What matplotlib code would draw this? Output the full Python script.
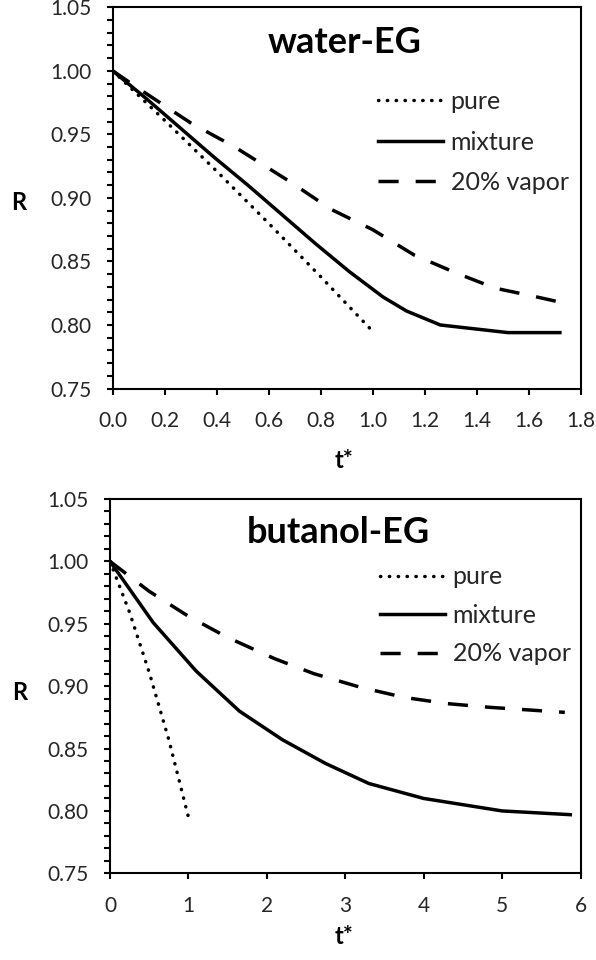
import matplotlib
matplotlib.use('Agg')
import matplotlib.pyplot as plt
from matplotlib.ticker import MultipleLocator, FormatStrFormatter

plt.rcParams['font.family'] = ['Lato', 'DejaVu Sans']

# Datos - water-EG
t_pure_w = [0, 0.2, 0.4, 0.6, 0.8, 1.0]
R_pure_w = [1.0, 0.961, 0.921, 0.880, 0.838, 0.795]
t_mix_w = [0, 0.13, 0.26, 0.39, 0.52, 0.65, 0.78, 0.91, 1.04, 1.13, 1.26, 1.52, 1.72]
R_mix_w = [1.0, 0.978, 0.955, 0.932, 0.910, 0.887, 0.864, 0.842, 0.822, 0.811, 0.800, 0.794, 0.794]
t_vap_w = [0, 0.1, 0.3, 0.47, 0.68, 0.84, 1.0, 1.16, 1.32, 1.47, 1.61, 1.72]
R_vap_w = [1.0, 0.986, 0.959, 0.940, 0.913, 0.891, 0.875, 0.855, 0.841, 0.829, 0.823, 0.818]

# Datos - butanol-EG
t_pure_b = [0, 0.25, 0.5, 0.75, 1.0]
R_pure_b = [1.0, 0.959, 0.911, 0.857, 0.795]
t_mix_b = [0, 0.55, 1.1, 1.65, 2.2, 2.75, 3.3, 4.0, 5.0, 5.87]
R_mix_b = [1.0, 0.951, 0.912, 0.880, 0.857, 0.838, 0.822, 0.810, 0.800, 0.797]
t_vap_b = [0, 0.5, 1.0, 1.5, 2.1, 2.6, 3.2, 3.75, 4.3, 4.85, 5.8]
R_vap_b = [1.0, 0.976, 0.956, 0.939, 0.922, 0.910, 0.899, 0.891, 0.886, 0.883, 0.879]

etiquetas = ['pure', 'mixture', '20% vapor']

fig = plt.figure(figsize=(5.96, 9.6), dpi=100)
ax1 = fig.add_axes([0.1891, 0.5953, 0.7852, 0.3971])
ax2 = fig.add_axes([0.1846, 0.0903, 0.7894, 0.3899])

lw = 2.5
dotted = (0, (0.1, 2.45))
dashed = (0, (5.8, 4.9))


def panel(ax, tp, Rp, tm, Rm, tv, Rv, xmax, xstep, xfmt, titulo, tpos, lpos, lsp, ypos_R, ypos_t):
    ax.plot(tp, Rp, color='black', lw=lw, linestyle=dotted, dash_capstyle='round', label=etiquetas[0])
    ax.plot(tm, Rm, color='black', lw=lw, linestyle='-', label=etiquetas[1])
    ax.plot(tv, Rv, color='black', lw=lw, linestyle=dashed, label=etiquetas[2])
    ax.set_xlim(0, xmax)
    ax.set_ylim(0.75, 1.05)
    ax.xaxis.set_major_locator(MultipleLocator(xstep))
    ax.xaxis.set_major_formatter(FormatStrFormatter(xfmt))
    ax.yaxis.set_major_locator(MultipleLocator(0.05))
    ax.yaxis.set_minor_locator(MultipleLocator(0.01))
    ax.yaxis.set_major_formatter(FormatStrFormatter('%.2f'))
    for s in ax.spines.values():
        s.set_linewidth(1.5)
    ax.tick_params(axis='both', which='both', direction='out', width=1.5, length=4.5,
                   labelsize=15, labelcolor='#262626')
    ax.tick_params(axis='y', pad=11)
    ax.tick_params(axis='x', pad=12)
    ax.text(tpos[0], tpos[1], titulo, transform=ax.transAxes, ha='center', va='baseline',
            fontsize=26, fontweight='bold')
    ax.set_ylabel('R', rotation=0, fontsize=17, fontweight='bold', ha='center', va='center')
    ax.yaxis.set_label_coords(*ypos_R)
    ax.set_xlabel('t*', fontsize=17, fontweight='bold', va='center')
    ax.xaxis.set_label_coords(*ypos_t)
    leg = ax.legend(loc='upper left', bbox_to_anchor=lpos, frameon=False, fontsize=18,
                    handlelength=2.6, handletextpad=0.3, borderpad=0, borderaxespad=0,
                    labelspacing=lsp)
    for txt in leg.get_texts():
        txt.set_color('#262626')


panel(ax1, t_pure_w, R_pure_w, t_mix_w, R_mix_w, t_vap_w, R_vap_w, 1.8, 0.2, '%.1f',
      'water-EG', (0.496, 0.879), (0.567, 0.783), 0.70, (-0.200, 0.487), (0.494, -0.1876))
panel(ax2, t_pure_b, R_pure_b, t_mix_b, R_mix_b, t_vap_b, R_vap_b, 6, 1, '%d',
      'butanol-EG', (0.485, 0.883), (0.574, 0.823), 0.62, (-0.193, 0.484), (0.497, -0.170))

fig.savefig('out.png', dpi=100)
